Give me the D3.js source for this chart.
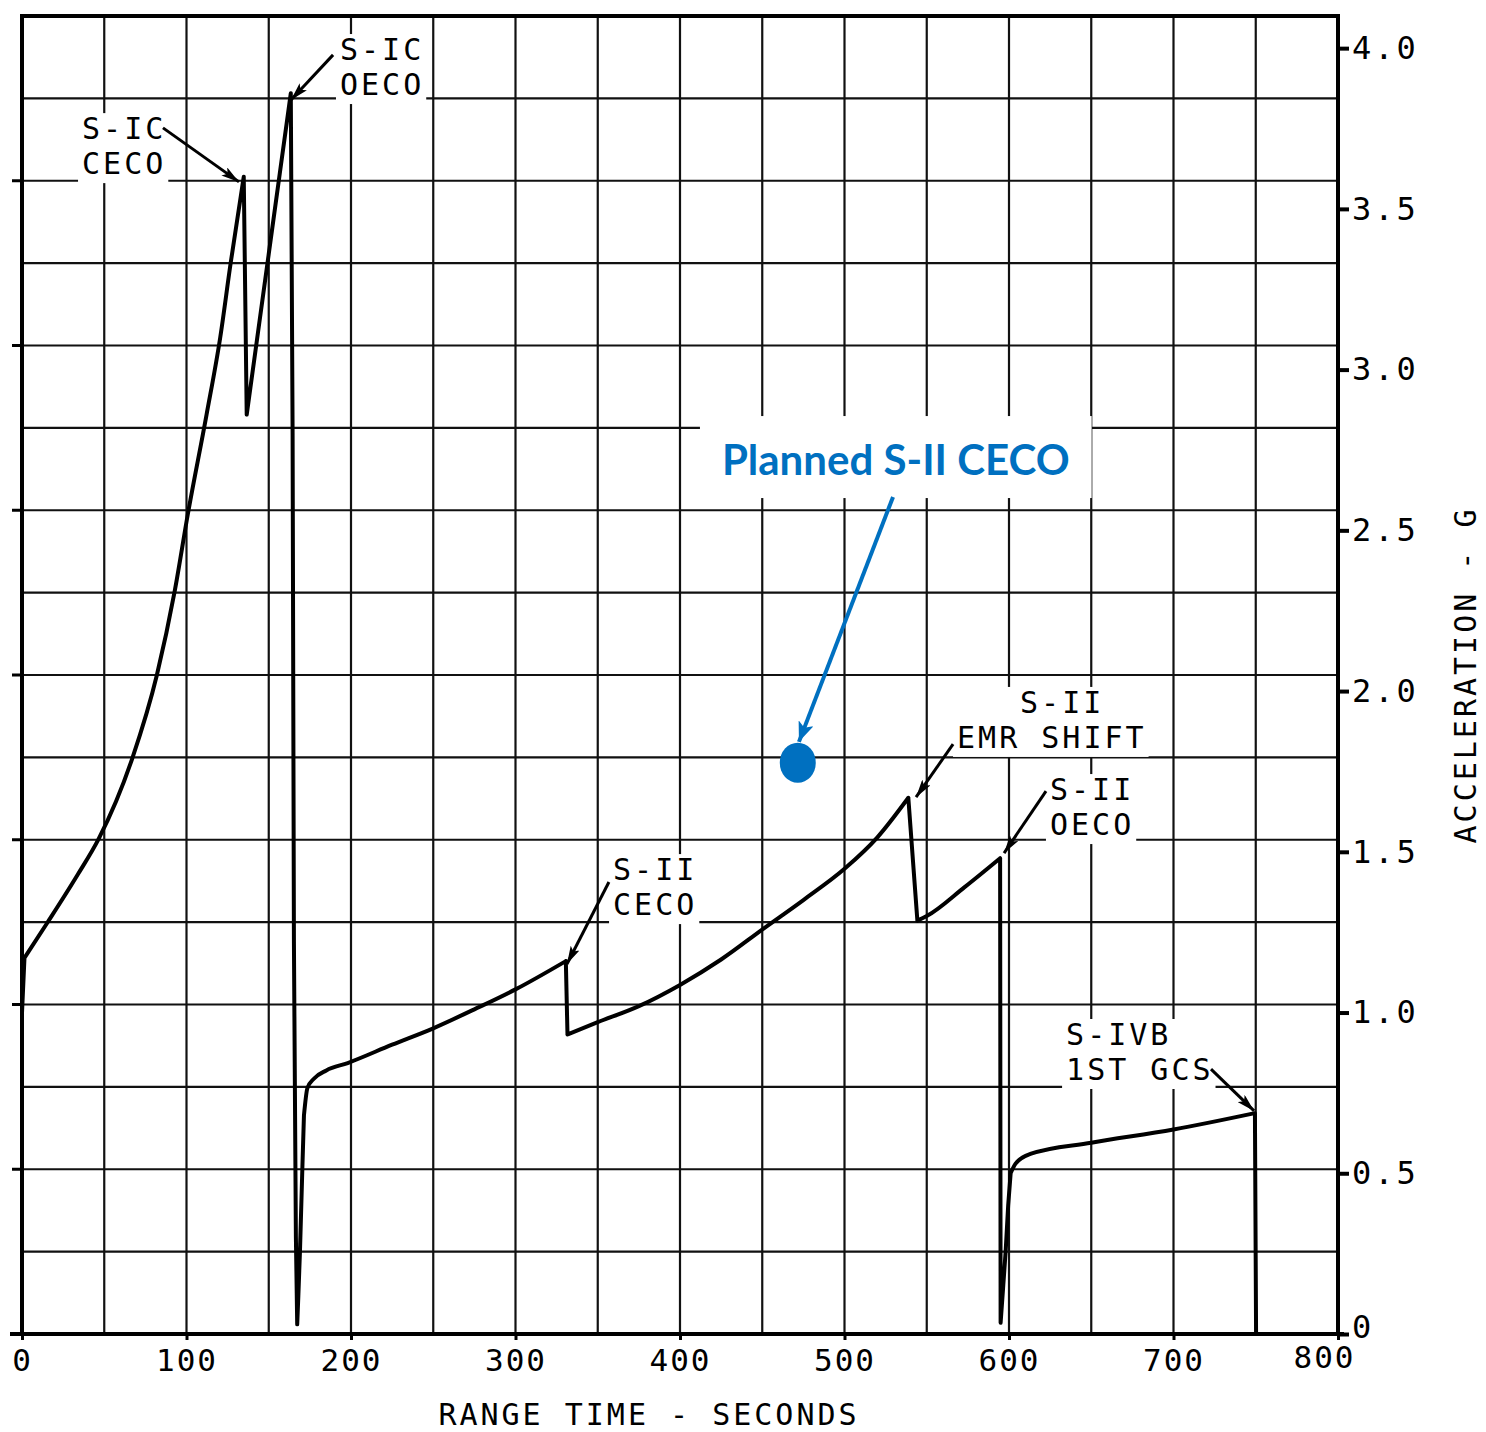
<!DOCTYPE html>
<html>
<head>
<meta charset="utf-8">
<script src="https://cdn.jsdelivr.net/npm/d3@7"></script>
<style>
  body { margin: 0; background: #fff; }
  svg { display: block; }
</style>
</head>
<body>
<div id="chart"></div>
<script>
// Acceleration history: range time (s) and acceleration (g)
const timeSec = [
  0, 1.5, 15.5, 34, 46.6, 67, 82, 92.8, 100.8, 112.2, 120.5, 126.8, 134.8,
  136.6, 150, 163.4,
  164.5, 165.3, 166.5, 167.3, 168.0, 169.0, 170.4, 171.4, 173.5, 177.6, 185, 198,
  225, 250, 275, 300, 330.6,
  331.6, 350, 375, 400, 425, 451, 475, 500, 520, 538.8,
  544.3, 550, 573, 594.6,
  594.9, 596.5, 598, 599.5, 601, 604, 613, 650, 700, 749.5, 750.2
];
const accelG = [
  1.0, 1.17, 1.28, 1.43, 1.54, 1.79, 2.05, 2.31, 2.55, 2.86, 3.10, 3.33, 3.60,
  2.86, 3.36, 3.86,
  2.80, 1.22, 0.30, 0.03, 0.12, 0.26, 0.51, 0.68, 0.765, 0.795, 0.82, 0.843,
  0.90, 0.951, 1.01, 1.072, 1.16,
  0.932, 0.97, 1.02, 1.086, 1.165, 1.262, 1.35, 1.447, 1.545, 1.668,
  1.286, 1.30, 1.39, 1.48,
  0.035, 0.15, 0.26, 0.40, 0.50, 0.53, 0.56, 0.595, 0.636, 0.687, 0.0
];

// Axis ticks
const timeTicks = [0, 100, 200, 300, 400, 500, 600, 700, 800];
const accelTicks = [0, 0.5, 1.0, 1.5, 2.0, 2.5, 3.0, 3.5, 4.0];
const accelTickLabels = ["0", "0.5", "1.0", "1.5", "2.0", "2.5", "3.0", "3.5", "4.0"];

// Event callouts: text lines (indent in character cells), label anchor and arrow (time s, accel g)
const callouts = [
  { lines: ["S-IC", "CECO"], indent: [0, 0], t: 36.5, g: 3.717, from: [85.7, 3.752], to: [131.9, 3.584] },
  { lines: ["S-IC", "OECO"], indent: [0, 0], t: 193.3, g: 3.963, from: [189.1, 3.979], to: [163.5, 3.839] },
  { lines: ["S-II", "CECO"], indent: [0, 0], t: 359.3, g: 1.412, from: [356.8, 1.406], to: [331.3, 1.151] },
  { lines: ["S-II", "EMR SHIFT"], indent: [3, 0], t: 568.4, g: 1.932, from: [566, 1.835], to: [543.5, 1.67] },
  { lines: ["S-II", "OECO"], indent: [0, 0], t: 624.9, g: 1.661, from: [622.5, 1.689], to: [597, 1.496] },
  { lines: ["S-IVB", "1ST GCS"], indent: [0, 0], t: 634.7, g: 0.899, from: [722.8, 0.824], to: [749, 0.694] }
];

// Added note: planned S-II CECO point
const plannedText = "Planned S-II CECO";
const plannedLabel = { t: 425.5, g: 2.672 };
const plannedArrow = { from: [529.5, 2.604], to: [472.3, 1.842] };
const plannedPoint = { t: 471.6, g: 1.777 };

const width = 1486;
const height = 1432;
const plotLeft = 22;
const plotRight = 1338;
const plotTop = 16;
const plotBottom = 1334;
const accelMax = 4.1;
const mono = "'DejaVu Sans Mono', monospace";
const blue = "#0070C0";
const charCell = 21;   // 30px mono advance + letter spacing

const x = d3.scaleLinear().domain([0, 800]).range([plotLeft, plotRight]);
const y = d3.scaleLinear().domain([0, accelMax]).range([plotBottom, plotTop]);

const svg = d3.select("#chart").append("svg")
    .attr("width", width)
    .attr("height", height)
    .style("background", "#fff");

const defs = svg.append("defs");
defs.append("marker")
    .attr("id", "head")
    .attr("markerUnits", "userSpaceOnUse")
    .attr("viewBox", "0 0 18 10")
    .attr("refX", 18).attr("refY", 5)
    .attr("markerWidth", 18).attr("markerHeight", 10)
    .attr("orient", "auto")
  .append("path").attr("d", "M0,0L18,5L0,10L4,5Z").attr("fill", "#000");
defs.append("marker")
    .attr("id", "headBlue")
    .attr("markerUnits", "userSpaceOnUse")
    .attr("viewBox", "0 0 20 16")
    .attr("refX", 20).attr("refY", 8)
    .attr("markerWidth", 20).attr("markerHeight", 16)
    .attr("orient", "auto")
  .append("path").attr("d", "M0,0L20,8L0,16L5,8Z").attr("fill", blue);

// graph paper grid: every 50 s, 16 equal rows
const grid = svg.append("g").attr("stroke", "#111").attr("stroke-width", 2.2);
grid.selectAll("line.v")
  .data(d3.range(50, 800, 50))
  .join("line").attr("class", "v")
    .attr("x1", d => x(d)).attr("x2", d => x(d))
    .attr("y1", plotTop).attr("y2", plotBottom);
grid.selectAll("line.h")
  .data(d3.range(1, 16).map(i => i * accelMax / 16))
  .join("line").attr("class", "h")
    .attr("x1", plotLeft).attr("x2", plotRight)
    .attr("y1", d => y(d)).attr("y2", d => y(d));

// stubs on the left edge at every other grid row
svg.append("g").attr("stroke", "#000").attr("stroke-width", 3)
  .selectAll("line")
  .data(d3.range(2, 16, 2).map(i => i * accelMax / 16))
  .join("line")
    .attr("x1", plotLeft - 10).attr("x2", plotLeft)
    .attr("y1", d => y(d)).attr("y2", d => y(d));

// acceleration curve: smooth burns, straight cutoffs and near-vertical steps
const steep = (a, b) =>
  Math.abs(y(accelG[b]) - y(accelG[a])) > 10 * Math.abs(x(timeSec[b]) - x(timeSec[a]));
const pieces = [];
let run = [0];
for (let i = 1; i < timeSec.length; i++) {
  if (accelG[i] < accelG[i - 1] || steep(i - 1, i)) {
    if (run.length > 1) pieces.push({ idx: run, smooth: true });
    pieces.push({ idx: [i - 1, i], smooth: false });
    run = [i];
  } else {
    run.push(i);
  }
}
if (run.length > 1) pieces.push({ idx: run, smooth: true });

const smoothLine = d3.line()
    .x(i => x(timeSec[i]))
    .y(i => y(accelG[i]))
    .curve(d3.curveMonotoneX);
const straightLine = d3.line()
    .x(i => x(timeSec[i]))
    .y(i => y(accelG[i]));

svg.append("path")
    .attr("d", pieces.map(p => (p.smooth ? smoothLine : straightLine)(p.idx)).join(""))
    .attr("fill", "none")
    .attr("stroke", "#000")
    .attr("stroke-width", 4)
    .attr("stroke-linejoin", "round")
    .attr("stroke-linecap", "round");

// callouts
callouts.forEach(c => {
  const g = svg.append("g");
  const bg = g.append("rect").attr("fill", "#fff");
  const text = g.append("text")
      .attr("font-family", mono)
      .attr("font-size", 30)
      .attr("letter-spacing", 3)
      .attr("fill", "#000");
  c.lines.forEach((s, i) => {
    text.append("tspan")
        .attr("x", x(c.t) + c.indent[i] * charCell)
        .attr("y", y(c.g) + i * 35)
        .text(s);
  });
  const b = text.node().getBBox();
  bg.attr("x", b.x - 4).attr("y", b.y + 2).attr("width", b.width + 6).attr("height", b.height);
  g.append("line")
      .attr("x1", x(c.from[0])).attr("y1", y(c.from[1]))
      .attr("x2", x(c.to[0])).attr("y2", y(c.to[1]))
      .attr("stroke", "#000")
      .attr("stroke-width", 3)
      .attr("marker-end", "url(#head)");
});

// planned S-II CECO note
const note = svg.append("g");
const noteBg = note.append("rect").attr("fill", "#fff");
const noteText = note.append("text")
    .attr("x", x(plannedLabel.t))
    .attr("y", y(plannedLabel.g))
    .attr("font-family", "Lato, 'Open Sans', sans-serif")
    .attr("font-weight", 700)
    .attr("font-size", 42)
    .attr("fill", blue)
    .text(plannedText);
const nb = noteText.node().getBBox();
noteBg.attr("x", nb.x - 22).attr("y", nb.y - 18)
    .attr("width", nb.width + 44).attr("height", nb.height + 32);
note.append("line")
    .attr("x1", x(plannedArrow.from[0])).attr("y1", y(plannedArrow.from[1]))
    .attr("x2", x(plannedArrow.to[0])).attr("y2", y(plannedArrow.to[1]))
    .attr("stroke", blue)
    .attr("stroke-width", 4)
    .attr("marker-end", "url(#headBlue)");
note.append("ellipse")
    .attr("cx", x(plannedPoint.t))
    .attr("cy", y(plannedPoint.g))
    .attr("rx", 18).attr("ry", 20)
    .attr("fill", blue);

// plot border
svg.append("rect")
    .attr("x", plotLeft).attr("y", plotTop)
    .attr("width", plotRight - plotLeft).attr("height", plotBottom - plotTop)
    .attr("fill", "none")
    .attr("stroke", "#000")
    .attr("stroke-width", 4);
svg.append("line")
    .attr("x1", plotLeft - 12).attr("x2", plotRight + 6)
    .attr("y1", plotBottom).attr("y2", plotBottom)
    .attr("stroke", "#000").attr("stroke-width", 4);

// bottom axis
const xAxis = svg.append("g")
    .attr("transform", `translate(0,${plotBottom})`)
    .call(d3.axisBottom(x).tickValues(timeTicks).tickSize(6).tickPadding(9));
xAxis.select(".domain").remove();
xAxis.selectAll(".tick line").attr("stroke-width", 3);
xAxis.selectAll("text")
    .attr("font-family", mono)
    .attr("font-size", 31)
    .attr("letter-spacing", 2)
    .attr("fill", "#000");
// last label sits left of its tick, clear of the right axis "0"
xAxis.selectAll("text").filter(d => d === 800)
    .attr("dx", -14).attr("y", 12);

// right axis
const yAxis = svg.append("g")
    .attr("transform", `translate(${plotRight},0)`)
    .call(d3.axisRight(y).tickValues(accelTicks)
      .tickFormat((d, i) => accelTickLabels[i])
      .tickSize(11).tickPadding(3));
yAxis.select(".domain").remove();
yAxis.selectAll(".tick line").attr("stroke-width", 4);
yAxis.selectAll("text")
    .attr("font-family", mono)
    .attr("font-size", 32)
    .attr("letter-spacing", 3)
    .attr("fill", "#000");
yAxis.selectAll("text").filter(d => d === 0).attr("dy", "0.1em");

// axis titles
svg.append("text")
    .attr("x", 649).attr("y", 1425)
    .attr("text-anchor", "middle")
    .attr("font-family", mono)
    .attr("font-size", 30)
    .attr("letter-spacing", 3)
    .text("RANGE TIME - SECONDS");
svg.append("text")
    .attr("transform", "translate(1476,675) rotate(-90)")
    .attr("text-anchor", "middle")
    .attr("font-family", mono)
    .attr("font-size", 30)
    .attr("letter-spacing", 3)
    .text("ACCELERATION - G");
</script>
</body>
</html>
